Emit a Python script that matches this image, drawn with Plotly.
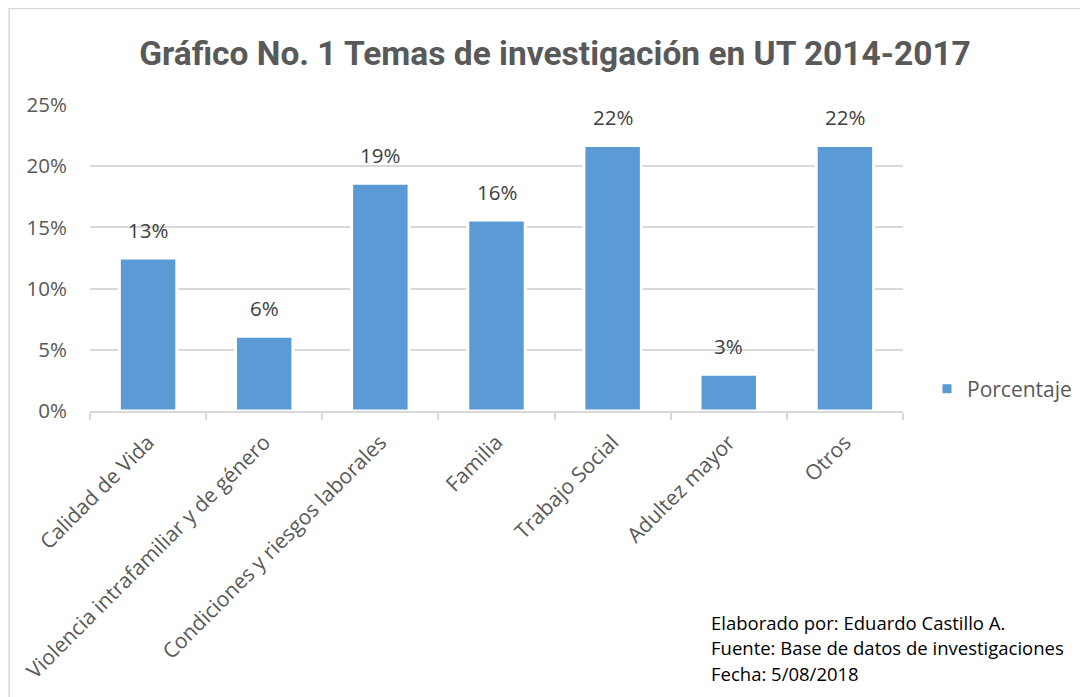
import math

import plotly.graph_objects as go

CATEGORIES = [
    "Calidad de Vida",
    "Violencia intrafamiliar y de género",
    "Condiciones y riesgos laborales",
    "Familia",
    "Trabajo Social",
    "Adultez mayor",
    "Otros",
]
PORCENTAJE = [0.125, 0.061, 0.186, 0.156, 0.217, 0.030, 0.217]
Y_TICKS = [0, 0.05, 0.10, 0.15, 0.20, 0.25]
NOTES = [
    "Elaborado por: Eduardo Castillo A.",
    "Fuente: Base de datos de investigaciones",
    "Fecha: 5/08/2018",
]

BAR_COLOR = "#5b9bd5"
GRID = "#d9d9d9"
TEXT = "#595959"
FONT = "Open Sans, sans-serif"

# the page body has an 8px margin, so figure coords = screen coords - 8
OFF = 8
W, H = 1088 - OFF, 697 - OFF
# plot area on screen: x 90..904, y 105..411
L, T = 90 - OFF, 105 - OFF
R, B = W - (904 - OFF), H - (411 - OFF)
PW, PH = W - L - R, H - T - B


def px_x(x):
    return (x - OFF - L) / PW


def px_y(y):
    return (H - B - (y - OFF)) / PH


def pct_label(v):
    # round half up like the spreadsheet does
    return f"{math.floor(v * 100 + 0.5)}%"


fig = go.Figure()
fig.add_bar(
    x=CATEGORIES,
    y=PORCENTAJE,
    name="Porcentaje",
    marker=dict(color=BAR_COLOR, line=dict(width=3, color="white")),
    width=0.495,
    hoverinfo="skip",
)

for cat, v in zip(CATEGORIES, PORCENTAJE):
    fig.add_annotation(
        x=cat, y=v, xref="x", yref="y",
        text=pct_label(v), showarrow=False,
        yanchor="middle", yshift=28,
        font=dict(family=FONT, size=20.5, color="#404040"),
    )

for i, line in enumerate(NOTES):
    fig.add_annotation(
        x=px_x(710), y=px_y(622 + i * 25.5), xref="paper", yref="paper",
        text=line, showarrow=False, xanchor="left", yanchor="middle",
        font=dict(family=FONT, size=18.5, color="#000000"),
    )

# chart frame
fig.add_shape(
    type="rect", xref="paper", yref="paper",
    x0=px_x(9), x1=px_x(1200), y0=px_y(800), y1=px_y(8.5),
    line=dict(color=GRID, width=1.5), layer="below",
)

fig.update_layout(
    width=W,
    height=H,
    margin=dict(l=L, r=R, t=T, b=B),
    paper_bgcolor="white",
    plot_bgcolor="white",
    font=dict(family=FONT, size=20, color=TEXT),
    title=dict(
        text="<b>Gráfico No. 1 Temas de investigación en UT 2014-2017</b>",
        x=(555 - OFF) / W, xanchor="center", y=1 - (53 - OFF) / H, yanchor="middle",
        font=dict(family="Roboto, sans-serif", size=33.5, color=TEXT),
    ),
    showlegend=True,
    legend=dict(
        x=px_x(927), y=px_y(389), xanchor="left", yanchor="middle",
        font=dict(family=FONT, size=21, color=TEXT),
        bgcolor="rgba(0,0,0,0)",
    ),
)
fig.update_xaxes(
    showline=True, linecolor=GRID, linewidth=1.5,
    ticks="outside", tickson="boundaries", ticklen=7, tickcolor=GRID, tickwidth=1.5,
    tickangle=-45, ticklabelstandoff=9,
    tickfont=dict(family=FONT, size=21, color=TEXT),
    showgrid=False,
)
fig.update_yaxes(
    range=[0, 0.25], tickvals=Y_TICKS, tickformat=".0%",
    showgrid=True, gridcolor=GRID, gridwidth=1.5,
    zeroline=False, showline=False, ticks="",
    ticklabelstandoff=22,
    tickfont=dict(family=FONT, size=20.5, color=TEXT),
)

fig.write_html("out.html")
